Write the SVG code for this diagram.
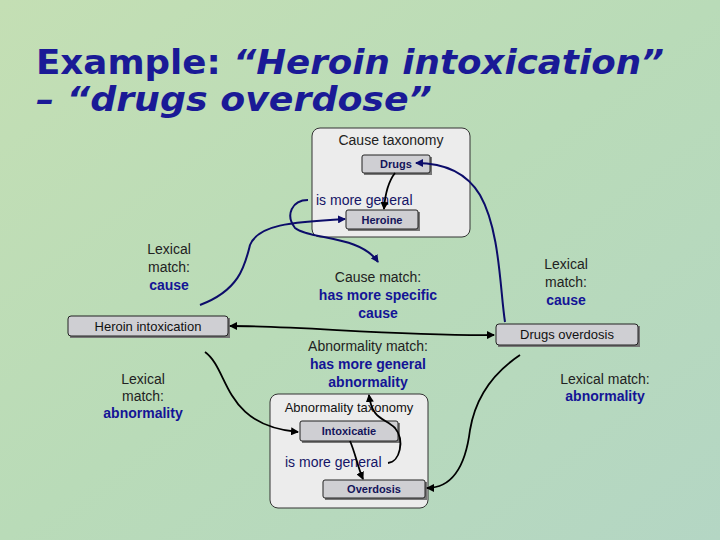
<svg xmlns="http://www.w3.org/2000/svg" width="720" height="540" viewBox="0 0 720 540">
<defs>
<linearGradient id="bg" x1="0" y1="0" x2="1" y2="1">
<stop offset="0" stop-color="#c4dfb4"/><stop offset="0.5" stop-color="#b9dbb8"/><stop offset="1" stop-color="#b4d6c4"/>
</linearGradient>
<marker id="an" markerWidth="8" markerHeight="8" refX="7" refY="4" orient="auto" markerUnits="userSpaceOnUse"><path d="M0,0L8,4L0,8z" fill="#0c0c6a"/></marker>
<marker id="ab" markerWidth="8" markerHeight="8" refX="7" refY="4" orient="auto" markerUnits="userSpaceOnUse"><path d="M0,0L8,4L0,8z" fill="#000"/></marker>
<marker id="abs" markerWidth="8" markerHeight="8" refX="1" refY="4" orient="auto" markerUnits="userSpaceOnUse"><path d="M8,0L0,4L8,8z" fill="#000"/></marker>
</defs>
<style>
text{font-family:"Liberation Sans",Arial,sans-serif}
.t{font-family:"DejaVu Sans",Verdana,sans-serif;font-size:34px;font-weight:bold;fill:#1a1a96}
.tax{fill:#ececec;stroke:#333;stroke-width:1}
.n{fill:#cfcfd3;stroke:#222;stroke-width:1}
.sh{fill:#777}
.nl{font-size:11px;font-weight:bold;fill:#14145a;text-anchor:middle}
.gl{font-size:14px;fill:#222;text-anchor:middle}
.bl{font-size:14px;font-weight:bold;fill:#141496;text-anchor:middle}
.gn{font-size:14px;fill:#141466}
.bt{font-size:13px;fill:#111;text-anchor:middle}
.cn{fill:none;stroke:#0c0c6a;stroke-width:2}
.ck{fill:none;stroke:#000;stroke-width:1.8}
</style>
<rect width="720" height="540" fill="url(#bg)"/>
<text class="t" x="36" y="74" textLength="628" lengthAdjust="spacingAndGlyphs">Example: <tspan font-style="italic">“Heroin intoxication”</tspan></text>
<text class="t" x="36" y="111" font-style="italic" textLength="396" lengthAdjust="spacingAndGlyphs">– “drugs overdose”</text>

<g id="cause-taxonomy">
<rect class="tax" x="312" y="128" width="158" height="109" rx="8"/>
<text class="gl" x="391" y="145">Cause taxonomy</text>
<text class="gn" x="316" y="205">is more general</text>
</g>
<g id="drugs"><rect class="sh" x="364" y="157" width="68" height="18"/><rect class="n" x="362" y="155" width="68" height="18" rx="2"/><text class="nl" x="396" y="168">Drugs</text></g>
<g id="heroine"><rect class="sh" x="348" y="212" width="72" height="19"/><rect class="n" x="346" y="210" width="72" height="19" rx="2"/><text class="nl" x="382" y="224">Heroine</text></g>

<g id="abnormality-taxonomy">
<rect class="tax" x="270" y="394" width="158" height="114" rx="8"/>
<text class="bt" x="349" y="412">Abnormality taxonomy</text>
<text class="gn" x="285" y="467">is more general</text>
</g>
<g id="intoxicatie"><rect class="sh" x="302" y="423" width="98" height="20"/><rect class="n" x="300" y="421" width="98" height="20" rx="2"/><text class="nl" x="349" y="435">Intoxicatie</text></g>
<g id="overdosis"><rect class="sh" x="325" y="482" width="102" height="18"/><rect class="n" x="323" y="480" width="102" height="18" rx="2"/><text class="nl" x="374" y="493">Overdosis</text></g>

<g id="heroin-intoxication"><rect class="sh" x="70" y="318" width="160" height="20"/><rect class="n" x="68" y="316" width="160" height="20" rx="3"/><text class="bt" x="148" y="331">Heroin intoxication</text></g>
<g id="drugs-overdosis"><rect class="sh" x="498" y="326" width="142" height="21"/><rect class="n" x="496" y="324" width="142" height="21" rx="3"/><text class="bt" x="567" y="339">Drugs overdosis</text></g>

<g id="labels">
<text class="gl" x="169" y="254">Lexical</text><text class="gl" x="169" y="272">match:</text><text class="bl" x="169" y="290" font-weight="normal" fill="#141496">cause</text>
<text class="gl" x="566" y="269">Lexical</text><text class="gl" x="566" y="287">match:</text><text class="bl" x="566" y="305" font-weight="normal">cause</text>
<text class="gl" x="378" y="282">Cause match:</text><text class="bl" x="378" y="300">has more specific</text><text class="bl" x="378" y="318">cause</text>
<text class="gl" x="368" y="351">Abnormality match:</text><text class="bl" x="368" y="369">has more general</text><text class="bl" x="368" y="387">abnormality</text>
<text class="gl" x="143" y="384">Lexical</text><text class="gl" x="143" y="401">match:</text><text class="bl" x="143" y="418">abnormality</text>
<text class="gl" x="605" y="384">Lexical match:</text><text class="bl" x="605" y="401">abnormality</text>
</g>

<g id="connectors">
<path class="ck" d="M395,173 C388,182 385,195 384,209" marker-end="url(#ab)"/>
<path class="ck" d="M350,441 C355,452 358,468 363,479" marker-end="url(#ab)"/>
<path class="cn" d="M200,305 C240,290 245,265 250,245 C258,225 290,222 345,219" marker-end="url(#an)"/>
<path class="cn" d="M308,200 C292,200 285,215 295,228 C310,240 360,235 378,262" marker-end="url(#an)"/>
<path class="cn" d="M505,322 C500,290 500,230 480,195 C465,170 440,163 416,163" marker-end="url(#an)"/>
<path class="ck" d="M230,326 C300,326 400,336 494,335" marker-start="url(#abs)" marker-end="url(#ab)"/>
<path class="ck" d="M205,352 C230,370 222,425 298,432" marker-end="url(#ab)"/>
<path class="ck" d="M388,463 C400,462 405,440 395,428 C385,418 372,420 369,395" marker-end="url(#ab)"/>
<path class="ck" d="M520,355 C490,375 475,400 470,430 C465,470 450,488 427,488" marker-end="url(#ab)"/>
</g>
</svg>
